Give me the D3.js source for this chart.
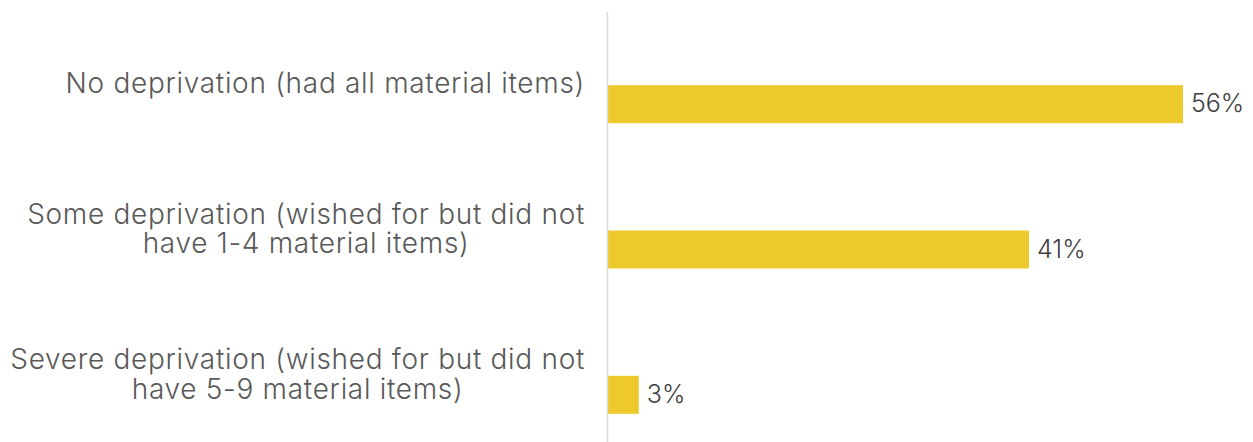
<!DOCTYPE html>
<html>
<head>
<meta charset="utf-8">
<script src="https://cdn.jsdelivr.net/npm/d3@7"></script>
<style>
  html, body { margin: 0; padding: 0; background: #ffffff; }
  svg { display: block; }
</style>
</head>
<body>
<svg id="chart" width="1253" height="442"></svg>
<script>
// Material deprivation categories (label lines) and their shares in percent
const categories = [
  "No deprivation (had all material items)",
  "Some deprivation (wished for but did not have 1-4 material items)",
  "Severe deprivation (wished for but did not have 5-9 material items)"
];
const labelLines = [
  ["No deprivation (had all material items)"],
  ["Some deprivation (wished for but did not", "have 1-4 material items)"],
  ["Severe deprivation (wished for but did not", "have 5-9 material items)"]
];
const shares = [56, 41, 3];

const svg = d3.select("#chart");
const axisX = 608;
const fontFamily = "Inter, Roboto, sans-serif";

const y = d3.scaleBand().domain(categories).range([11, 447]);
const x = d3.scaleLinear().domain([0, 56]).range([axisX, 1183]);

const barH = 38;
const barOffset = 1.5;

// bars
svg.selectAll("rect.bar")
  .data(categories)
  .join("rect")
  .attr("class", "bar")
  .attr("x", x(0))
  .attr("y", c => y(c) + y.bandwidth() / 2 + barOffset)
  .attr("width", (c, i) => x(shares[i]) - x(0))
  .attr("height", barH)
  .attr("fill", "#EDC92D");

// vertical category axis line
svg.append("line")
  .attr("x1", axisX - 0.5).attr("x2", axisX - 0.5)
  .attr("y1", 12).attr("y2", 442)
  .attr("stroke", "#d9d9d9")
  .attr("stroke-width", 1.5);

// category labels: lines centred on each other, block right edge at 585
const lineH = 29.5;
const labelG = svg.selectAll("text.cat")
  .data(categories)
  .join("text")
  .attr("class", "cat")
  .attr("text-anchor", "middle")
  .attr("font-family", fontFamily)
  .attr("font-weight", 300)
  .attr("font-size", 28)
  .attr("letter-spacing", 0.7)
  .attr("fill", "#595959");

labelG.each(function(c, i) {
  const t = d3.select(this);
  const lines = labelLines[i];
  const cy = y(c) + y.bandwidth() / 2;
  const startY = cy - (lines.length - 1) * lineH / 2 + 9.5;
  lines.forEach((ln, k) => {
    t.append("tspan").attr("x", 0).attr("y", startY + k * lineH).text(ln);
  });
  const w = this.getBBox().width;
  t.selectAll("tspan").attr("x", 585 - w / 2);
});

// value labels
svg.selectAll("text.val")
  .data(categories)
  .join("text")
  .attr("class", "val")
  .attr("x", (c, i) => x(shares[i]) + 8)
  .attr("y", c => y(c) + y.bandwidth() / 2 + barOffset + barH / 2 + 8)
  .attr("font-family", fontFamily)
  .attr("font-weight", 300)
  .attr("font-size", 25)
  .attr("fill", "#404040")
  .text((c, i) => shares[i] + "%");
</script>
</body>
</html>
